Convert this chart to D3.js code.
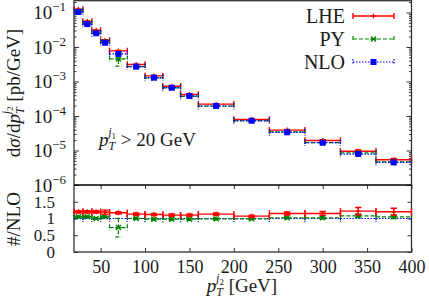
<!DOCTYPE html>
<html>
<head>
<meta charset="utf-8">
<script src="https://cdn.jsdelivr.net/npm/d3@7"></script>
</head>
<body style="margin:0;background:#fff">
<script>
// bins in GeV
var binLo = [20, 30, 40, 50, 60, 80, 100, 120, 140, 160, 200, 240, 280, 320, 360];
var binHi = [30, 40, 50, 60, 80, 100, 120, 140, 160, 200, 240, 280, 320, 360, 400];

// dsigma/dpT [pb/GeV]
var lhe = [0.122, 0.055, 0.030, 0.0155, 0.0077, 0.0031, 0.00145, 7.3e-4, 4.2e-4, 2.2e-4, 7.9e-5, 3.9e-5, 1.95e-5, 9.5e-6, 5.4e-6];
var py  = [0.108, 0.048, 0.025, 0.0140, 0.0045, 0.0027, 0.00126, 6.5e-4, 3.7e-4, 1.93e-4, 7.2e-5, 3.45e-5, 1.7e-5, 8.5e-6, 4.7e-6];
var nlo = [0.103, 0.046, 0.025, 0.0133, 0.0063, 0.0027, 0.00129, 6.6e-4, 3.8e-4, 1.95e-4, 7.3e-5, 3.37e-5, 1.68e-5, 7.9e-6, 4.5e-6];

// relative errors
var lheRelErr = [0.03, 0.03, 0.03, 0.05, 0.03, 0.03, 0.03, 0.03, 0.03, 0.03, 0.03, 0.04, 0.05, 0.09, 0.09];
var pyRelErr  = [0.03, 0.03, 0.03, 0.03, 0.38, 0.03, 0.03, 0.03, 0.03, 0.03, 0.03, 0.03, 0.04, 0.05, 0.05];
var nloRelErr = [0.02, 0.02, 0.02, 0.02, 0.02, 0.02, 0.02, 0.02, 0.02, 0.02, 0.02, 0.02, 0.02, 0.02, 0.02];

// ratio to NLO
var lheRatio = [1.20, 1.20, 1.20, 1.19, 1.17, 1.13, 1.12, 1.10, 1.10, 1.13, 1.07, 1.15, 1.15, 1.22, 1.20];
var pyRatio  = [1.05, 1.05, 1.00, 1.05, 0.73, 1.00, 0.98, 0.98, 0.98, 0.99, 0.99, 1.02, 1.02, 1.08, 1.05];
var nloRatio = [1, 1, 1, 1, 1, 1, 1, 1, 1, 1, 1, 1, 1, 1, 1];

var xTicks = [50, 100, 150, 200, 250, 300, 350, 400];
var yExps = [-6, -5, -4, -3, -2, -1];
var ratioTicks = [0, 0.5, 1, 1.5];
var legendNames = ["LHE", "PY", "NLO"];

var W = 429, H = 299;
var FONT = "'Liberation Serif'";
var svg = d3.select("body").append("svg").attr("width", W).attr("height", H)
    .style("font-family", FONT);

var x = d3.scaleLinear().domain([20, 400]).range([74, 411.5]);
var y = d3.scaleLog().domain([1e-6, 0.215]).range([185, 1]);
var yr = d3.scaleLinear().domain([0, 2]).range([252, 185]);

var colors = { LHE: "#ff0000", PY: "#008000", NLO: "#0000ff" };
var dashes = { LHE: null, PY: "4,2", NLO: "1.5,1.5" };

// ---- axes / ticks ----
var tickCol = "#333";

function cleanAxis(g) {
    g.select(".domain").remove();
    g.attr("font-family", null).style("font-family", FONT);
    g.selectAll("line").attr("stroke", tickCol);
    g.selectAll("text").style("font-family", FONT).style("font-size", "18px").attr("fill", "#1a1a1a");
}

function addText(sel, size) {
    return sel.append("text").style("font-family", FONT).style("font-size", size + "px").attr("fill", "#1a1a1a");
}

// main panel log ticks (left + right, inward)
var minor = [];
yExps.forEach(function(e) {
    for (var k = 2; k <= 9; k++) {
        var v = k * Math.pow(10, e);
        if (v <= 0.215) minor.push(v);
    }
});
var majors = yExps.map(function(e) { return Math.pow(10, e); });

svg.append("g").attr("transform", "translate(74,0)")
    .call(d3.axisLeft(y).tickValues(majors).tickSize(-5).tickFormat("")).call(cleanAxis);
svg.append("g").attr("transform", "translate(74,0)")
    .call(d3.axisLeft(y).tickValues(minor).tickSize(-2.5).tickFormat("")).call(cleanAxis);
svg.append("g").attr("transform", "translate(411.5,0)")
    .call(d3.axisRight(y).tickValues(majors).tickSize(-5).tickFormat("")).call(cleanAxis);
svg.append("g").attr("transform", "translate(411.5,0)")
    .call(d3.axisRight(y).tickValues(minor).tickSize(-2.5).tickFormat("")).call(cleanAxis);

// main y tick labels 10^n
yExps.forEach(function(e) {
    var t = addText(svg, 19)
        .attr("x", 66)
        .attr("y", y(Math.pow(10, e)) + 7)
        .attr("text-anchor", "end");
    t.append("tspan").text("10");
    t.append("tspan").attr("dy", -8).style("font-size", "13px").text("\u2212" + (-e));
});

// ratio panel y ticks
svg.append("g").attr("transform", "translate(74,0)")
    .call(d3.axisLeft(yr).tickValues(ratioTicks).tickSize(-4).tickPadding(19)
        .tickFormat(function(d) { return d; }))
    .call(cleanAxis)
    .call(function(g) { g.selectAll("text").style("font-size", "17px"); });
svg.append("g").attr("transform", "translate(411.5,0)")
    .call(d3.axisRight(yr).tickValues(ratioTicks).tickSize(-4).tickFormat(""))
    .call(cleanAxis);

// x ticks: ratio panel bottom (with labels) and top
svg.append("g").attr("transform", "translate(0,252)")
    .call(d3.axisBottom(x).tickValues(xTicks).tickSize(-4).tickPadding(8))
    .call(cleanAxis);
svg.append("g").attr("transform", "translate(0,185)")
    .call(d3.axisTop(x).tickValues(xTicks).tickSize(-4).tickFormat(""))
    .call(cleanAxis);

// frames
svg.append("rect").attr("x", 74).attr("y", 0.7).attr("width", 411.5 - 74).attr("height", 252 - 0.7)
    .attr("fill", "none").attr("stroke", "#333").attr("stroke-width", 1.3);
svg.append("line").attr("x1", 74).attr("x2", 411.5).attr("y1", 185).attr("y2", 185)
    .attr("stroke", "#000").attr("stroke-width", 1.4);

// ---- data drawing ----
function drawMarker(g, kind, cx, cy, color) {
    if (kind === "LHE") {
        g.append("path").attr("d", "M" + (cx - 2.5) + "," + cy + "H" + (cx + 2.5) + "M" + cx + "," + (cy - 2.5) + "V" + (cy + 2.5))
            .attr("stroke", color).attr("stroke-width", 1.3);
    } else if (kind === "PY") {
        g.append("path").attr("d", "M" + (cx - 2.5) + "," + (cy - 2.5) + "L" + (cx + 2.5) + "," + (cy + 2.5) +
            "M" + (cx - 2.5) + "," + (cy + 2.5) + "L" + (cx + 2.5) + "," + (cy - 2.5) +
            "M" + (cx - 3) + "," + cy + "H" + (cx + 3))
            .attr("stroke", color).attr("stroke-width", 1.3);
    } else {
        g.append("rect").attr("x", cx - 3).attr("y", cy - 3).attr("width", 6).attr("height", 6).attr("fill", color);
    }
}

function drawSeries(kind, vals, relErr, scale, isRatio) {
    var color = colors[kind];
    var g = svg.append("g");
    var cap = 3.2;
    vals.forEach(function(v, i) {
        var x0 = x(binLo[i]), x1 = x(binHi[i]);
        var cx = x((binLo[i] + binHi[i]) / 2), cy = scale(v);
        var err = v * relErr[i];
        var yTop = scale(v + err), yBot = scale(v - err);
        var path = "M" + x0 + "," + cy + "H" + x1 +
            "M" + x0 + "," + (cy - cap) + "V" + (cy + cap) +
            "M" + x1 + "," + (cy - cap) + "V" + (cy + cap);
        if (!(isRatio && kind === "NLO")) {
            path += "M" + cx + "," + yTop + "V" + yBot +
                "M" + (cx - cap) + "," + yTop + "H" + (cx + cap) +
                "M" + (cx - cap) + "," + yBot + "H" + (cx + cap);
        }
        g.append("path").attr("d", path)
            .attr("fill", "none")
            .attr("stroke", color)
            .attr("stroke-width", kind === "LHE" ? 1.4 : 1.2)
            .attr("stroke-dasharray", dashes[kind]);
        if (!(isRatio && kind === "NLO")) drawMarker(g, kind, cx, cy, color);
    });
}

drawSeries("NLO", nloRatio, nloRelErr, yr, true);
drawSeries("PY", pyRatio, pyRelErr, yr, true);
drawSeries("LHE", lheRatio, lheRelErr, yr, true);

drawSeries("LHE", lhe, lheRelErr, y, false);
drawSeries("PY", py, pyRelErr, y, false);
drawSeries("NLO", nlo, nloRelErr, y, false);

// ---- legend ----
legendNames.forEach(function(name, i) {
    var ly = 16 + i * 23;
    addText(svg, 20).attr("x", 345).attr("y", ly + 6.5).attr("text-anchor", "end").text(name);
    var g = svg.append("g");
    g.append("path")
        .attr("d", "M353," + ly + "H394M353," + (ly - 3) + "V" + (ly + 3) + "M394," + (ly - 3) + "V" + (ly + 3))
        .attr("fill", "none").attr("stroke", colors[name]).attr("stroke-width", name === "LHE" ? 1.4 : 1.2)
        .attr("stroke-dasharray", dashes[name]);
    drawMarker(g, name, 373.5, ly, colors[name]);
});

// p_T^{jN} helper
function ptLabel(t, n) {
    t.append("tspan").style("font-style", "italic").text("p");
    t.append("tspan").attr("dy", 4).style("font-size", "12px").style("font-style", "italic").text("T");
    t.append("tspan").attr("dx", -7).attr("dy", -14).style("font-size", "12px").style("font-style", "italic").text("j");
    t.append("tspan").attr("dy", 3).style("font-size", "9px").text(n);
}

// ---- annotation ----
var ann = addText(svg, 19).attr("x", 99).attr("y", 146);
ptLabel(ann, "1");
ann.append("tspan").attr("dy", 7).text(" > 20 GeV");

// ---- axis titles ----
var xl = addText(svg, 19).attr("x", 242).attr("y", 292).attr("text-anchor", "middle");
ptLabel(xl, "2");
xl.append("tspan").attr("dy", 7).text(" [GeV]");

var yl = addText(svg, 19).attr("transform", "translate(19.5,93) rotate(-90)").attr("text-anchor", "middle");
yl.append("tspan").text("d");
yl.append("tspan").style("font-style", "italic").text("\u03c3");
yl.append("tspan").text("/d");
ptLabel(yl, "2");
yl.append("tspan").attr("dy", 7).text(" [pb/GeV]");

addText(svg, 19).attr("transform", "translate(19.5,219) rotate(-90)")
    .attr("text-anchor", "middle").text("#/NLO");
</script>
</body>
</html>
